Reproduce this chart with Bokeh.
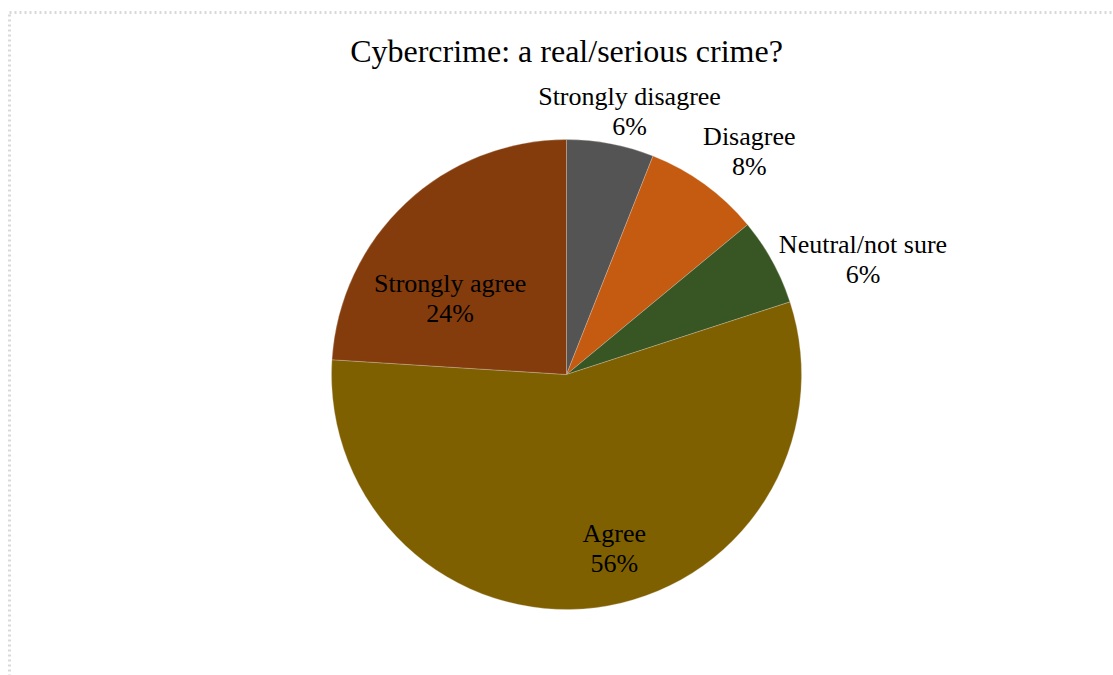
import math
from bokeh.plotting import figure
from bokeh.models import ColumnDataSource, BoxAnnotation, Range1d
from bokeh.core.properties import value
from bokeh.embed import file_html
from bokeh.resources import INLINE

# ---- data ----
categories = ["Strongly disagree", "Disagree", "Neutral/not sure", "Agree", "Strongly agree"]
percents = [6, 8, 6, 56, 24]
colors = ["#545454", "#C55A11", "#375623", "#7F6000", "#843C0C"]
title_text = "Cybercrime: a real/serious crime?"

# ---- layout (styles / positions) ----
W, H = 1113, 675
cx, cy, R = 566, H - 374, 235
label_radius = [270, 288, 318, 180, 139]      # distance of label centre from pie centre
label_angle_shift = [2.7, 3.4, 7.6, -8.2, -13.6]  # degrees, clockwise shift from mid-angle

total = float(sum(percents))
starts, ends, lx, ly, l1, l2 = [], [], [], [], [], []
cum = 0.0
for i, v in enumerate(percents):
    a0 = math.pi / 2 - 2 * math.pi * cum / total
    cum += v
    a1 = math.pi / 2 - 2 * math.pi * cum / total
    starts.append(a0)
    ends.append(a1)
    mid_deg = 360.0 * (cum - v / 2.0) / total + label_angle_shift[i]
    m = math.radians(mid_deg)
    lx.append(cx + label_radius[i] * math.sin(m))
    ly.append(cy + label_radius[i] * math.cos(m))
    l1.append(categories[i])
    l2.append(f"{v}%")

src = ColumnDataSource(dict(start=starts, end=ends, color=colors))

p = figure(width=W, height=H, output_backend="svg", toolbar_location=None,
           x_range=Range1d(0, W), y_range=Range1d(0, H), min_border=0)
p.axis.visible = False
p.grid.visible = False
p.outline_line_color = None
p.background_fill_color = "white"
p.border_fill_color = "white"

# dotted frame
p.add_layout(BoxAnnotation(left=9, right=W + 20, top=H - 12, bottom=-20,
                           fill_alpha=0, line_color="#808080", line_width=3,
                           line_dash="2 3"))

p.wedge(x=cx, y=cy, radius=R, start_angle="start", end_angle="end",
        direction="clock", fill_color="color", line_color="#e0d8d0",
        line_width=0.5, line_alpha=0.6, source=src)

font = value("Liberation Serif")
p.text(x=[cx], y=[H - 50], text=[title_text], text_font=font,
       text_font_size="32px", text_align="center", text_baseline="middle",
       text_color="black")

lsrc = ColumnDataSource(dict(x=lx, y1=[y + 15 for y in ly], y2=[y - 15 for y in ly],
                             t1=l1, t2=l2))
p.text(x="x", y="y1", text="t1", text_font=font, text_font_size="26px",
       text_align="center", text_baseline="middle", text_color="black", source=lsrc)
p.text(x="x", y="y2", text="t2", text_font=font, text_font_size="26px",
       text_align="center", text_baseline="middle", text_color="black", source=lsrc)

open("out.html", "w").write(file_html(p, INLINE))
